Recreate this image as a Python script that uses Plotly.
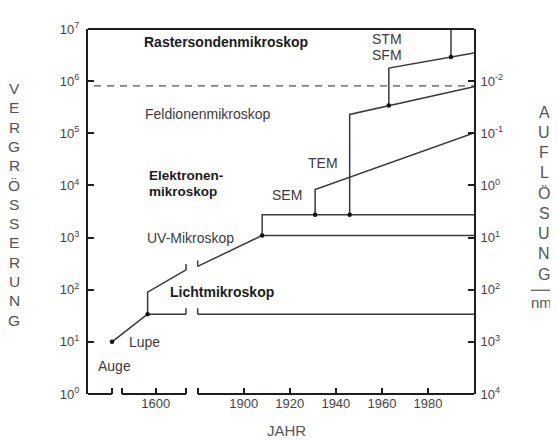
import plotly.graph_objects as go

# ---------------- data ----------------
# broken x-axis: year range of each segment and its share of the axis width
SEG_YEARS = [(1460, 1540), (1550, 1645), (1880, 2000)]
SEG_FRAC = [(0.0, 0.0622), (0.0881, 0.2539), (0.2842, 1.0)]

x_tick_years = [1600, 1900, 1920, 1940, 1960, 1980]
x_tick_labels = ["1600", "1900", "1920", "1940", "1960", "1980"]

y_exponents = [0, 1, 2, 3, 4, 5, 6, 7]
res_exponents = [-2, -1, 0, 1, 2, 3, 4]

lupe_years = [1540, 1588]
lupe_mag = [10, 34]

light_limit_years = [1588, 1645, None, 1880, 2000]
light_limit_mag = [34, 34, None, 34, 34]

light_years = [1588, 1588, 1645, None, 1880, 1908]
light_mag = [34, 90, 240, None, 280, 1100]

uv_years = [1908, 2000]
uv_mag = [1100, 1100]

em_base_years = [1908, 1908, 2000]
em_base_mag = [1100, 2750, 2750]

sem_years = [1931, 1931, 2000]
sem_mag = [2750, 8300, 1.02e5]

tem_years = [1946, 1946, 2000]
tem_mag = [2750, 2.3e5, 7.8e5]

stm_years = [1963, 1963, 2000]
stm_mag = [3.4e5, 1.78e6, 3.45e6]

sfm_years = [1990, 1990]
sfm_mag = [2.9e6, 1.0e7]

limit_years = [1480, 2000]
limit_mag = [8.1e5, 8.1e5]

dot_years = [1540, 1588, 1908, 1931, 1946, 1963, 1990]
dot_mag = [10, 34, 1100, 2750, 2750, 3.4e5, 2.9e6]

break_years = [1645, 1645, 1880, 1880]
break_mag = [34, 240, 34, 280]


# ---------------- broken-axis scale ----------------
def xmap(year):
    if year is None:
        return None
    for (y0, y1), (f0, f1) in zip(SEG_YEARS, SEG_FRAC):
        if y0 - 1e-9 <= year <= y1 + 1e-9:
            return f0 + (year - y0) / (y1 - y0) * (f1 - f0)
    for i in range(len(SEG_YEARS) - 1):
        if SEG_YEARS[i][1] < year < SEG_YEARS[i + 1][0]:
            a, b = SEG_YEARS[i][1], SEG_YEARS[i + 1][0]
            fa, fb = SEG_FRAC[i][1], SEG_FRAC[i + 1][0]
            return fa + (year - a) / (b - a) * (fb - fa)
    return None


def xs(years):
    return [xmap(y) for y in years]


LINE_COL = "#3a3a3a"
AX_COL = "#1e1e1e"
TXT = "#3c3c3c"
FONT = "Liberation Sans"

# page offset (body margin) and plot-area box in figure pixels
OFF = 8
W, H = 550, 432
PL, PR, PT, PB = 80, 466, 13, 386

fig = go.Figure()


def add_line(years, mags, dash=None, width=1.5, color=LINE_COL):
    fig.add_trace(go.Scatter(
        x=xs(years), y=mags, mode="lines",
        line=dict(color=color, width=width, dash=dash),
        hoverinfo="skip", showlegend=False, connectgaps=False))


add_line(lupe_years, lupe_mag)
add_line(light_limit_years, light_limit_mag)
add_line(light_years, light_mag)
add_line(uv_years, uv_mag)
add_line(em_base_years, em_base_mag)
add_line(sem_years, sem_mag)
add_line(tem_years, tem_mag)
add_line(stm_years, stm_mag)
add_line(sfm_years, sfm_mag)
add_line(limit_years, limit_mag, dash="7px,6px", width=1.3, color="#555555")

# small break marks on the lines at the axis gap
bx, by = [], []
for yr, m in zip(break_years, break_mag):
    bx += [xmap(yr), xmap(yr), None]
    by += [m, m * 1.3, None]
fig.add_trace(go.Scatter(x=bx, y=by, mode="lines",
                         line=dict(color=LINE_COL, width=1.5),
                         hoverinfo="skip", showlegend=False))

fig.add_trace(go.Scatter(
    x=xs(dot_years), y=dot_mag, mode="markers",
    marker=dict(color="#111111", size=4.5),
    hoverinfo="skip", showlegend=False))

# invisible trace to carry the right (resolution) axis
fig.add_trace(go.Scatter(x=[0, 0], y=[10 ** res_exponents[0], 10 ** res_exponents[-1]],
                         yaxis="y2", mode="markers", marker=dict(opacity=0),
                         hoverinfo="skip", showlegend=False))

# x ticks: labelled years plus unlabelled caps at segment ends
cap_vals = [SEG_FRAC[0][1], SEG_FRAC[1][0], SEG_FRAC[1][1], SEG_FRAC[2][0]]
tickvals = xs(x_tick_years) + cap_vals
ticktext = x_tick_labels + [" "] * len(cap_vals)

fig.update_layout(
    width=W, height=H,
    margin=dict(l=PL, r=W - PR, t=PT, b=H - PB, pad=0),
    paper_bgcolor="white", plot_bgcolor="white",
    font=dict(family=FONT, color=TXT, size=13),
    showlegend=False,
    xaxis=dict(range=[0, 1], showgrid=False, zeroline=False, showline=False,
               tickmode="array", tickvals=tickvals, ticktext=ticktext,
               ticks="inside", ticklen=6, tickwidth=2, tickcolor=AX_COL,
               ticklabelstandoff=0,
               tickfont=dict(size=13, color="#444444"), fixedrange=True),
    yaxis=dict(type="log", range=[0, 7], showgrid=False, zeroline=False,
               showline=True, linewidth=2, linecolor=AX_COL,
               tickmode="array", tickvals=[10 ** e for e in y_exponents],
               ticktext=["10<sup>%d</sup>" % e for e in y_exponents],
               ticks="inside", ticklen=6, tickwidth=2, tickcolor=AX_COL,
               ticklabelstandoff=4,
               tickfont=dict(size=13, color="#444444")),
    yaxis2=dict(type="log", range=[4, -3], overlaying="y", side="right",
                anchor="x", showgrid=False, zeroline=False,
                showline=True, linewidth=2, linecolor=AX_COL,
                tickmode="array", tickvals=[10 ** e for e in res_exponents],
                ticktext=["10<sup>%d</sup>" % e for e in res_exponents],
                ticks="inside", ticklen=6, tickwidth=2, tickcolor=AX_COL,
                ticklabelstandoff=2,
                tickfont=dict(size=13, color="#444444")),
)


def px_x(p):
    return (p - OFF - PL) / (PR - PL)


def px_y(p):
    return (PB - (p - OFF)) / (PB - PT)


# top border and broken bottom axis line
shapes = [dict(type="line", xref="paper", yref="paper", x0=0, x1=1, y0=1, y1=1,
               line=dict(color=AX_COL, width=2))]
for f0, f1 in SEG_FRAC:
    shapes.append(dict(type="line", xref="x", yref="paper", x0=f0, x1=f1, y0=0, y1=0,
                       line=dict(color=AX_COL, width=2)))
# underline of the right-hand title
shapes.append(dict(type="line", xref="paper", yref="paper",
                   x0=px_x(531), x1=px_x(554), y0=px_y(288), y1=px_y(288),
                   line=dict(color="#555555", width=1.2)))
fig.update_layout(shapes=shapes)


def label(text, x, y, bold=False, size=14, anchor="left", color=TXT):
    fig.add_annotation(
        text=("<b>%s</b>" % text) if bold else text,
        xref="paper", yref="paper", x=px_x(x), y=px_y(y),
        xanchor=anchor, yanchor="middle", showarrow=False,
        font=dict(family=FONT, size=size, color="#1c1c1c" if bold else color))


label("Rastersondenmikroskop", 142, 34, bold=True)
label("Feldionenmikroskop", 143, 108)
label("Elektronen-", 147, 171, bold=True, size=13.5)
label("mikroskop", 147, 187, bold=True, size=13.5)
label("UV-Mikroskop", 145, 235)
label("Lichtmikroskop", 168, 290, bold=True)
label("Lupe", 127, 341)
label("Auge", 96, 365)
label("SEM", 287, 191, anchor="center")
label("TEM", 323, 158, anchor="center")
label("STM", 387, 31, anchor="center")
label("SFM", 387, 48, anchor="center")

# axis titles, one stacked letter at a time
TITLE_COL = "#555555"
for i, ch in enumerate("VERGRÖSSERUNG"):
    label(ch, 14, 82 + i * 19.7, size=15.5, anchor="center", color=TITLE_COL)
for i, ch in enumerate("AUFLÖSUNG"):
    label(ch, 544, 106 + i * 20.7, size=16, anchor="center", color=TITLE_COL)
label("nm", 541, 300, size=15, anchor="center", color=TITLE_COL)
label("JAHR", 286, 431, size=15, anchor="center", color=TITLE_COL)

fig.write_html("out.html")
